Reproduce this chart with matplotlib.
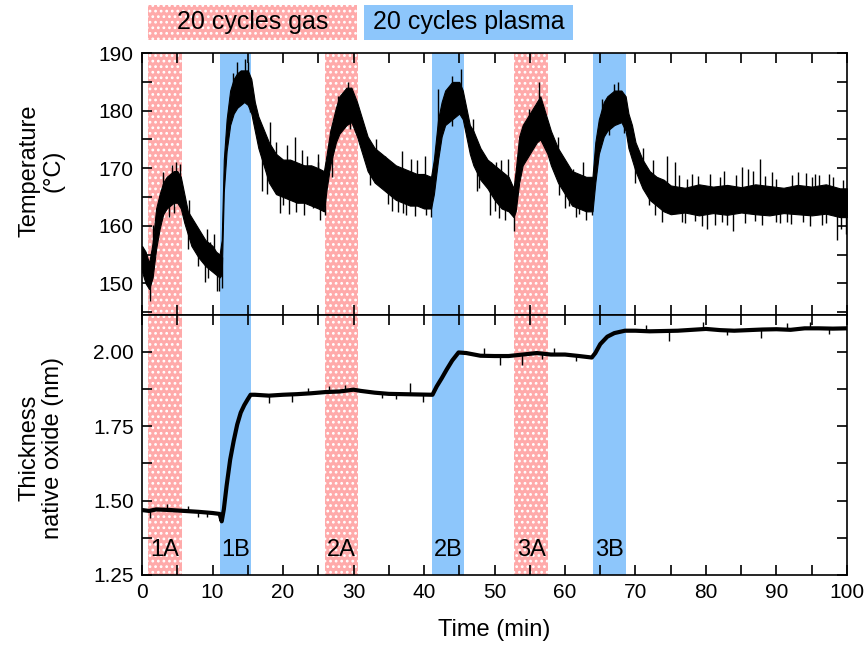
import matplotlib
matplotlib.use("Agg")
import matplotlib.pyplot as plt
import numpy as np
from matplotlib.patches import Rectangle
from matplotlib.ticker import MultipleLocator, FormatStrFormatter

plt.rcParams['font.family'] = ['Liberation Sans', 'DejaVu Sans']
plt.rcParams['hatch.linewidth'] = 1.2

# process steps (minutes)
gas_start = [0.9, 25.9, 52.8]
gas_end = [5.6, 30.7, 57.6]
gas_labels = ['1A', '2A', '3A']
plasma_start = [11.0, 41.1, 64.0]
plasma_end = [15.5, 45.7, 68.6]
plasma_labels = ['1B', '2B', '3B']

# temperature trace: time, lower and upper edge of the dense noise band (deg C)
temp_t = [0, 0.5, 1.0, 1.5, 2.0, 2.5, 3.0, 3.5, 4.0, 4.5, 5.0, 5.5, 6.0, 6.5, 7.0, 8.0, 9.0, 10.0,
          10.5, 11.0, 11.3, 11.6, 12.0, 12.5, 13.0, 13.5, 14.0, 14.5, 15.0, 15.5, 16.0, 16.5, 17.0,
          18.0, 19.0, 20.0, 21.0, 22.0, 23.0, 24.0, 25.0, 25.8, 26.2, 26.7, 27.5, 28.0, 29.0, 29.7,
          30.5, 31.0, 32.0, 33.0, 34.0, 35.0, 36.0, 37.0, 38.0, 39.0, 40.0, 41.0, 41.4, 42.0, 42.5,
          43.0, 44.0, 45.0, 45.5, 46.0, 46.5, 47.0, 48.0, 49.0, 50.0, 51.0, 52.0, 52.7, 53.0, 53.5,
          54.0, 55.0, 56.0, 56.5, 57.5, 58.0, 59.0, 60.0, 61.0, 62.0, 63.0, 63.9, 64.3, 64.8, 65.5,
          66.0, 67.0, 68.0, 68.6, 69.0, 69.5, 70.0, 71.0, 72.0, 73.0, 74.0, 75.0, 77.0, 79.0, 81.0,
          83.0, 85.0, 87.0, 89.0, 91.0, 93.0, 95.0, 97.0, 99.0, 100.0]
temp_lo = [152, 150, 149, 151, 156, 159.5, 162, 163, 163.5, 164, 164, 163, 160.5, 158.5, 156.5, 154.5, 153, 152,
           151.5, 151, 151.5, 166, 173, 177.5, 179.5, 180.5, 181, 181.5, 181, 179.5, 176.5, 173.5, 171.5,
           167.5, 165.5, 165, 164.5, 164, 164, 163.5, 163, 162.5, 166.5, 170.5, 174.5, 176, 177.5, 178,
           175.5, 173.5, 169.5, 167.5, 166.5, 165.5, 164.5, 164, 163.5, 163.5, 163, 163, 165.5, 171.5, 175.5,
           177.5, 178.5, 179.5, 178.5, 175.5, 172.5, 170.5, 168, 166.5, 164.5, 163, 162.5, 161.5, 162.5, 167.5,
           170.5, 172.5, 174.5, 175, 172.5, 170.5, 167.5, 165.5, 163.5, 163, 162.5, 162.5, 167.5, 172.5, 175.5,
           176.5, 177.5, 178, 176.5, 173.5, 171.5, 169.5, 166.5, 164.5, 163.5, 162.5, 162, 162.3, 161.8, 162.2,
           161.9, 162.3, 162, 161.8, 162.2, 162, 161.8, 162.1, 161.5, 161.5]
temp_hi = [156.5, 155.5, 153.5, 157, 163, 165.5, 167.5, 168.5, 169, 169.5, 169.5, 168.5, 165.5, 162.5, 161.5, 159.5, 157.5, 156.5,
           155.5, 155, 157.5, 171.5, 178.5, 183.5, 185.5, 186.5, 187, 187, 187, 185.5, 181.5, 179, 177.5,
           174.5, 172.5, 171.5, 171.5, 171, 170.5, 170.5, 170, 169.5, 172.5, 176.5, 180.5, 182.5, 184, 184,
           181.5, 179.5, 175.5, 173.5, 172.5, 171.5, 170.5, 170, 169.5, 169, 169, 168.5, 171.5, 178.5, 181.5,
           183.5, 185, 185, 183.5, 180.5, 177.5, 176.5, 173.5, 171.5, 170.5, 169.5, 168.5, 166.5, 169.5, 175.5,
           177.5, 179.5, 181.5, 182.5, 178.5, 176.5, 173.5, 171.5, 169.5, 169, 168.5, 168.5, 174.5, 178.5, 181.5,
           182.5, 183.5, 183.5, 182.5, 179.5, 177.5, 174.5, 171.5, 169.5, 168.5, 168, 167, 166.6, 167.2, 166.8,
           167.1, 166.7, 167.2, 166.9, 166.6, 167.1, 166.8, 167.2, 166.5, 166.5]

# single readings that stick out of the temperature band
temp_spike_t = [0.19, 0.66, 1.13, 1.61, 3.0, 5.4, 5.6, 7.3, 8.2, 8.9, 9.6, 10.6, 11.3, 12.95, 13.4,
                14.6, 15.1, 13.9, 15.3, 18.2, 18.6, 20.0, 21.7, 21.9, 24.3, 23.4, 25.0, 25.9, 27.8,
                29.2, 29.5, 30.9, 32.1, 32.3, 34.4, 36.3, 38.2, 40.3, 40.1, 42.0, 43.9, 45.3, 43.9,
                46.7, 48.1, 49.5, 49.3, 50.2, 50.7, 52.8, 51.9, 54.0, 54.9, 56.3, 56.8, 59.2, 61.1,
                62.0, 63.9, 65.3, 66.9, 67.5, 66.3, 68.4, 70.5, 71.9, 73.8, 74.5, 75.3, 75.6, 78.0,
                81.3, 83.9, 85.1, 87.7, 89.4, 91.5, 93.1, 97.4, 98.6, 99.1, 76.6, 80.1, 27.0, 35.5,
                37.5, 47.5, 60.0, 19.5, 17.0, 3.8, 6.5, 82.5, 86.0, 90.5, 95.5, 96.5,
                76.2, 77.3, 78.8, 80.6, 82.0, 84.2, 86.6, 88.4, 90.0, 92.2, 94.2, 95.0, 96.0, 98.0, 99.5,
                77.0, 78.5, 79.4, 82.2, 83.0, 85.6, 87.0, 88.0, 89.9, 92.0, 93.8, 94.7, 97.0, 99.8,
                19.0, 20.6, 22.7, 24.9, 17.7, 20.8, 23.0, 25.2, 33.2, 36.9, 39.0, 34.9, 37.0, 38.7,
                41.0, 47.0, 50.9, 47.8, 50.0, 51.5, 59.0, 62.5, 60.5, 61.5, 63.0, 71.0, 72.5, 70.0,
                72.8, 4.2, 4.8, 4.5, 6.7, 9.2, 10.2, 7.9, 9.3, 10.9]
temp_spike_v = [154.9, 149.7, 146.9, 160.1, 169.3, 170.8, 163.0, 156.1, 158.4, 150.3, 157.2, 148.6,
                149.1, 186.6, 188.4, 189.0, 188.4, 181.4, 179.7, 178.0, 167.0, 163.6, 175.4, 162.4,
                163.0, 172.2, 171.1, 161.8, 182.6, 184.9, 176.8, 174.5, 175.1, 167.0, 172.2, 162.4,
                171.6, 161.8, 172.2, 183.7, 186.1, 187.2, 177.4, 176.2, 171.6, 171.1, 161.8, 171.1,
                161.3, 159.0, 171.6, 177.4, 180.3, 184.9, 174.5, 165.3, 169.9, 162.1, 161.8, 182.0,
                184.6, 184.9, 175.7, 176.2, 171.1, 163.6, 160.7, 172.2, 162.4, 171.1, 169.0, 160.1,
                159.0, 170.2, 171.6, 169.3, 160.7, 169.3, 169.0, 157.5, 159.5, 160.7, 159.5, 168.5,
                162.5, 161.8, 166.0, 163.0, 162.2, 166.0, 161.5, 156.0, 169.5, 169.8, 160.5, 169.0,
                160.2,
                168.8, 168.2, 168.6, 169.0, 168.4, 168.9, 169.5, 168.7, 168.2, 168.8, 169.2, 168.4, 168.8, 168.5, 168.0,
                160.5, 160.8, 160.0, 160.6, 160.2, 160.4, 160.8, 160.2, 160.6, 160.3, 160.6, 160.0, 160.4, 158.6,
                174.5, 174.0, 173.2, 172.5, 165.5, 162.0, 161.8, 161.0, 175.0, 173.0, 171.5, 163.8, 162.3, 161.7,
                161.5, 178.5, 171.5, 166.5, 162.5, 161.0, 175.5, 171.0, 163.5, 161.5, 161.0, 173.5, 171.5, 167.5,
                161.8, 170.5, 171.0, 162.3, 164.5, 159.5, 158.5, 153.0, 151.0, 148.6]

# thickness trace (nm)
thick_t = [0, 1, 2, 4, 6, 8, 10, 11.0, 11.3, 11.6, 12.0, 12.5, 13.0, 13.5, 14.0, 14.5, 15.0, 15.4,
           16, 18, 20, 22, 24, 26, 28, 30, 31, 33, 35, 37, 39, 41.2, 41.8, 42.5, 43.2, 44.0, 44.9,
           46, 48, 50, 52, 54, 56, 58, 60, 62, 63.8, 64.3, 65, 66, 67, 68.5, 70, 72, 74, 76, 78,
           80, 82, 84, 86, 88, 90, 92, 94, 96, 98, 100]
thick = [1.468, 1.465, 1.47, 1.468, 1.465, 1.462, 1.458, 1.455, 1.43, 1.47, 1.55, 1.637, 1.70,
         1.755, 1.795, 1.82, 1.84, 1.855, 1.855, 1.852, 1.855, 1.857, 1.86, 1.864, 1.866, 1.872,
         1.868, 1.862, 1.858, 1.857, 1.856, 1.855, 1.883, 1.91, 1.939, 1.97, 1.997, 1.995, 1.986,
         1.985, 1.985, 1.99, 1.995, 1.99, 1.99, 1.985, 1.98, 1.995, 2.025, 2.05, 2.062, 2.07,
         2.07, 2.068, 2.069, 2.07, 2.073, 2.076, 2.072, 2.07, 2.072, 2.074, 2.075, 2.073, 2.078,
         2.078, 2.077, 2.078]
thick_spike_t = [1.1, 18.0, 21.3, 38.0, 39.9, 50.8, 53.9, 74.7, 87.8, 79.6, 94.8, 3.5, 8.0, 26.5,
                 34.0, 58.5, 61.5, 6.5, 9.2, 23.5, 28.8, 36.0, 48.5, 56.8, 71.5, 83.0, 91.5, 97.5]
thick_spike_v = [1.44, 1.828, 1.832, 1.894, 1.83, 1.955, 1.955, 2.035, 2.045, 2.10, 2.10, 1.488, 1.445,
                 1.885, 1.845, 2.012, 1.97, 1.483, 1.445, 1.878, 1.888, 1.842, 2.012, 1.975, 2.09,
                 2.055, 2.095, 2.058]

pink = '#ffaaaa'
blue = '#8dc6fb'

fig = plt.figure(figsize=(8.64, 6.48), dpi=100)
ax1 = fig.add_axes([0.1644, 0.514, 0.8159, 0.404])
ax2 = fig.add_axes([0.1644, 0.1127, 0.8159, 0.4013], sharex=ax1)

for ax in (ax1, ax2):
    for s, e in zip(gas_start, gas_end):
        ax.axvspan(s, e, facecolor=pink, edgecolor='white', hatch='...', linewidth=0, zorder=0)
    for s, e in zip(plasma_start, plasma_end):
        ax.axvspan(s, e, facecolor=blue, edgecolor='none', linewidth=0, zorder=0)

# temperature
ax1.fill_between(temp_t, temp_lo, temp_hi, color='black', linewidth=0.8, zorder=2)
temp_mid = (np.array(temp_lo) + np.array(temp_hi)) / 2
ax1.vlines(temp_spike_t, np.interp(temp_spike_t, temp_t, temp_mid), temp_spike_v,
           color='black', linewidth=1.0, zorder=2)
ax1.set_ylim(144.5, 190)
ax1.yaxis.set_major_locator(MultipleLocator(10))
ax1.yaxis.set_minor_locator(MultipleLocator(5))
ax1.set_ylabel('Temperature\n(°C)', fontsize=17, linespacing=1.1)
ax1.yaxis.set_label_coords(-0.11, 0.55)
ax1.tick_params(labelbottom=False)

# thickness
ax2.plot(thick_t, thick, color='black', linewidth=3, zorder=2)
ax2.vlines(thick_spike_t, np.interp(thick_spike_t, thick_t, thick), thick_spike_v,
           color='black', linewidth=1.0, zorder=2)
ax2.set_ylim(1.25, 2.123)
ax2.yaxis.set_major_locator(MultipleLocator(0.25))
ax2.yaxis.set_minor_locator(MultipleLocator(0.125))
ax2.yaxis.set_major_formatter(FormatStrFormatter('%.2f'))
ax2.set_ylabel('Thickness\nnative oxide (nm)', fontsize=17, linespacing=1.1)
ax2.yaxis.set_label_coords(-0.11, 0.49)
ax2.set_xlabel('Time (min)', fontsize=17, labelpad=12)

for s, e, lab in zip(gas_start + plasma_start, gas_end + plasma_end, gas_labels + plasma_labels):
    ax2.text((s + e) / 2, 1.333, lab, ha='center', va='center', fontsize=17, zorder=3)

ax2.set_xlim(0, 100)
ax2.xaxis.set_major_locator(MultipleLocator(10))
ax2.xaxis.set_minor_locator(MultipleLocator(5))

for ax in (ax1, ax2):
    ax.tick_params(which='both', direction='in', top=True, right=True, labelsize=15, width=1.2,
                   length=7, pad=6)
    for sp in ax.spines.values():
        sp.set_linewidth(1.2)

# legend boxes above the plot
fig.patches.append(Rectangle((0.1713, 0.9383), 0.2419, 0.054, transform=fig.transFigure,
                             facecolor=pink, edgecolor='white', hatch='...', linewidth=0))
fig.patches.append(Rectangle((0.4213, 0.9383), 0.2419, 0.054, transform=fig.transFigure,
                             facecolor=blue, edgecolor='none', linewidth=0))
fig.text(0.1713 + 0.121, 0.9653, '20 cycles gas', ha='center', va='center', fontsize=18)
fig.text(0.4213 + 0.121, 0.9653, '20 cycles plasma', ha='center', va='center', fontsize=18)

fig.savefig('out.png', dpi=100)
